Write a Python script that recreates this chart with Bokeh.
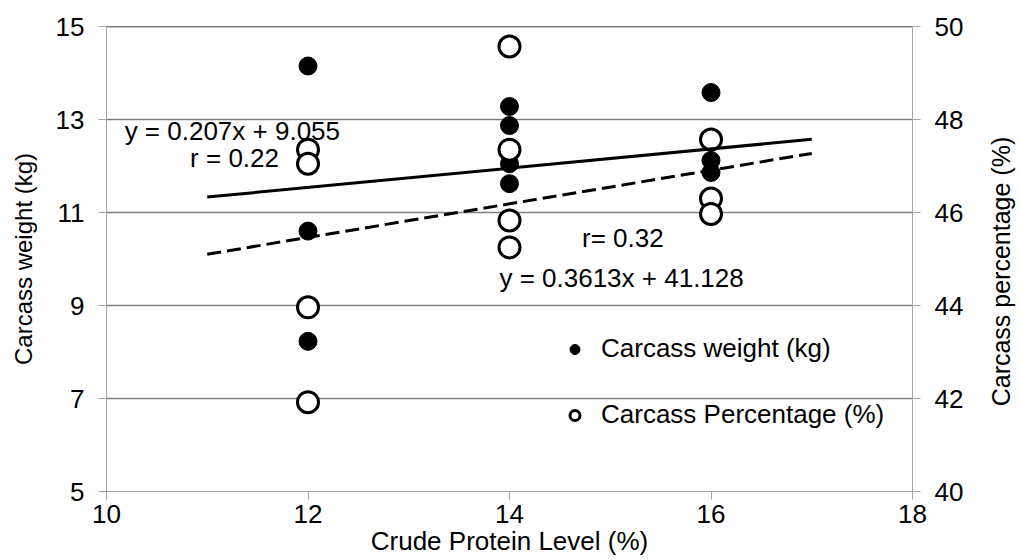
import math
from bokeh.plotting import figure
from bokeh.layouts import row
from bokeh.models import (Range1d, LinearAxis, FixedTicker, Span, Label, Legend, LegendItem)
from bokeh.embed import file_html
from bokeh.resources import INLINE

# ---- data ----
weight_x = [12, 12, 12, 14, 14, 14, 14, 16, 16, 16]
weight_kg = [14.15, 10.6, 8.23, 13.28, 12.87, 12.05, 11.62, 13.58, 12.12, 11.86]
pct_x = [12, 12, 12, 12, 14, 14, 14, 14, 16, 16, 16]
pct_val = [47.35, 47.05, 43.96, 41.92, 49.57, 47.35, 45.83, 45.25, 47.57, 46.30, 45.97]
trend_x = [11, 17]
weight_fit = (0.207, 9.055)
pct_fit = (0.3613, 41.128)
x_ticks = [10, 12, 14, 16, 18]
y_left_ticks = [5, 7, 9, 11, 13, 15]
y_right_ticks = [40, 42, 44, 46, 48, 50]
grid_levels = [7, 9, 11, 13]

FONT = "Liberation Sans"
GRAY_AX = "#a6a6a6"
GRAY_GRID = "#7f7f7f"
H = 557

p = figure(frame_width=806, frame_height=465,
           x_range=Range1d(10, 18), y_range=Range1d(5, 15),
           output_backend="svg", toolbar_location=None,
           min_border_left=106, min_border_right=60, min_border_top=26, min_border_bottom=66,
           background_fill_color="white", border_fill_color="white")
p.outline_line_color = None
p.extra_y_ranges = {"pct": Range1d(40, 50)}

# grid
p.xgrid.grid_line_color = None
p.ygrid.ticker = FixedTicker(ticks=grid_levels)
p.ygrid.grid_line_color = GRAY_GRID
p.ygrid.grid_line_width = 1.5
p.add_layout(Span(location=15, dimension="width", line_color="black", line_width=1.5))

def style_axis(ax, size="26px"):
    ax.axis_line_color = GRAY_AX
    ax.major_tick_line_color = GRAY_AX
    ax.major_tick_out = 8
    ax.major_tick_in = 0
    ax.minor_tick_out = 0
    ax.minor_tick_in = 0
    ax.major_label_text_font = FONT
    ax.major_label_text_font_size = size
    ax.major_label_text_color = "black"
    ax.axis_label_text_font = FONT
    ax.axis_label_text_font_style = "normal"
    ax.axis_label_text_color = "black"

# x axis
xa = p.xaxis[0]
style_axis(xa)
xa.ticker = FixedTicker(ticks=x_ticks)
xa.major_label_standoff = 5
xa.axis_label = "Crude Protein Level (%)"
xa.axis_label_text_font_size = "26px"
xa.axis_label_standoff = 0

# left axis
ya = p.yaxis[0]
style_axis(ya)
ya.ticker = FixedTicker(ticks=y_left_ticks)
ya.major_label_standoff = 14
ya.axis_label = "Carcass weight (kg)"
ya.axis_label_text_font_size = "24px"
ya.axis_label_standoff = 16

# right axis (ticks)
ra = LinearAxis(y_range_name="pct", ticker=FixedTicker(ticks=y_right_ticks))
style_axis(ra)
ra.major_label_standoff = 14
p.add_layout(ra, "right")

# points
r_w = p.scatter(weight_x, weight_kg, size=18, marker="circle",
                fill_color="black", line_color="black")
r_p = p.scatter(pct_x, pct_val, size=21, marker="circle", y_range_name="pct",
                fill_color="white", line_color="black", line_width=3)

# trend lines
p.line(trend_x, [weight_fit[0] * x + weight_fit[1] for x in trend_x],
       line_color="black", line_width=3)
p.line(trend_x, [pct_fit[0] * x + pct_fit[1] for x in trend_x], y_range_name="pct",
       line_color="black", line_width=3, line_dash="14 6")

# equation labels
def lab(x, y, t, rng="default"):
    p.add_layout(Label(x=x, y=y, text=t, y_range_name=rng, text_font=FONT,
                       text_font_size="26px", text_baseline="middle", text_color="black"))

lab(10.18, 12.76, "y = 0.207x + 9.055")
lab(10.83, 12.18, "r = 0.22")
lab(14.72, 10.46, "r= 0.32")
lab(13.90, 9.60, "y = 0.3613x + 41.128")

legend = Legend(items=[LegendItem(label="Carcass weight (kg)", renderers=[r_w]),
                       LegendItem(label="Carcass Percentage (%)", renderers=[r_p])],
                location=(456, 61), orientation="vertical",
                glyph_width=25, glyph_height=30, label_height=30, spacing=35,
                padding=0, margin=0, label_standoff=14,
                label_text_font=FONT, label_text_font_size="26px",
                label_text_color="black",
                border_line_color=None, background_fill_alpha=0)
p.add_layout(legend, "center")

# narrow strip holding the right axis title (reads bottom-to-top)
t = figure(width=46, height=H, x_range=Range1d(0, 46), y_range=Range1d(0, H),
           output_backend="svg", toolbar_location=None,
           x_axis_location=None, y_axis_location=None,
           min_border_left=0, min_border_right=0, min_border_top=0, min_border_bottom=0,
           background_fill_color="white", border_fill_color="white")
t.outline_line_color = None
t.grid.grid_line_color = None
t.add_layout(Label(x=28, y=H - 290, text="Carcass percentage  (%)", angle=math.pi / 2,
                   text_align="center", text_baseline="middle",
                   text_font=FONT, text_font_size="25px", text_color="black"))

layout = row(p, t, spacing=0)
open("out.html", "w").write(file_html(layout, INLINE))
